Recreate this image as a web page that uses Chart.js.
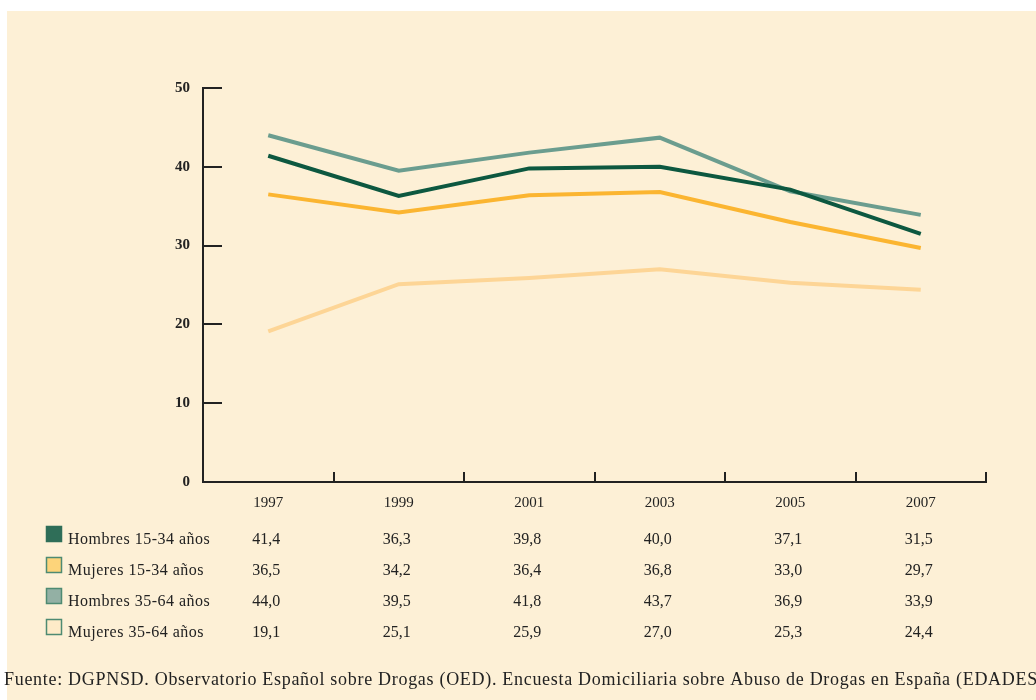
<!DOCTYPE html>
<html>
<head>
<meta charset="utf-8">
<script src="https://cdn.jsdelivr.net/npm/chart.js@4.4.1/dist/chart.umd.min.js"></script>
<style>
  html, body { margin: 0; padding: 0; background: #ffffff; }
  #wrap { width: 1036px; height: 700px; position: relative; }
</style>
</head>
<body>
<div id="wrap"><canvas id="chart" width="1036" height="700"></canvas></div>
<script>
// datos del gráfico
const years = ['1997', '1999', '2001', '2003', '2005', '2007'];
const seriesNames = ['Hombres 15-34 años', 'Mujeres 15-34 años', 'Hombres 35-64 años', 'Mujeres 35-64 años'];
const hombres1534 = [41.4, 36.3, 39.8, 40.0, 37.1, 31.5];
const mujeres1534 = [36.5, 34.2, 36.4, 36.8, 33.0, 29.7];
const hombres3564 = [44.0, 39.5, 41.8, 43.7, 36.9, 33.9];
const mujeres3564 = [19.1, 25.1, 25.9, 27.0, 25.3, 24.4];
const yTicks = [0, 10, 20, 30, 40, 50];
const fuente = 'Fuente: DGPNSD. Observatorio Español sobre Drogas (OED). Encuesta Domiciliaria sobre Abuso de Drogas en España (EDADES)';

const lineColors = ['#0d5840', '#fbb531', '#6b9d8f', '#fdd596'];
const boxFill = ['#2f6e58', '#fdd47a', '#93b0a4', '#feebc8'];
const boxBorder = ['#2f6e58', '#4e8a72', '#4e8a72', '#4e8a72'];
const allSeries = [hombres1534, mujeres1534, hombres3564, mujeres3564];

const serif = '"Liberation Serif", "DejaVu Serif", serif';

// fondo, marcas interiores, tabla y fuente
const extras = {
    id: 'extras',
    beforeDraw(chart) {
        const ctx = chart.ctx;
        ctx.save();
        ctx.fillStyle = '#fdf0d6';
        ctx.fillRect(7, 11, chart.width - 7, chart.height - 11);
        ctx.restore();
    },
    afterDraw(chart) {
        const ctx = chart.ctx;
        const xs = chart.scales.x;
        const ys = chart.scales.y;
        const area = chart.chartArea;
        ctx.save();
        ctx.strokeStyle = '#222';
        ctx.lineWidth = 2;
        // marcas del eje y hacia dentro
        yTicks.forEach(v => {
            const y = Math.round(ys.getPixelForValue(v));
            ctx.beginPath();
            ctx.moveTo(area.left, y);
            ctx.lineTo(area.left + 19, y);
            ctx.stroke();
        });
        // marcas del eje x entre categorías
        for (let i = 1; i <= years.length; i++) {
            const x = Math.round(xs.getPixelForDecimal(i / years.length));
            ctx.beginPath();
            ctx.moveTo(x, area.bottom);
            ctx.lineTo(x, area.bottom - 10);
            ctx.stroke();
        }
        // tabla con leyenda
        ctx.textBaseline = 'alphabetic';
        ctx.fillStyle = '#222';
        const rowBase = [544, 575, 606, 637];
        allSeries.forEach((vals, r) => {
            const base = rowBase[r];
            ctx.fillStyle = boxFill[r];
            ctx.fillRect(46, base - 18, 16, 16);
            ctx.strokeStyle = boxBorder[r];
            ctx.lineWidth = 1.5;
            ctx.strokeRect(46.5, base - 17.5, 15, 15);
            ctx.fillStyle = '#222';
            ctx.font = '16px ' + serif;
            ctx.letterSpacing = '0.5px';
            ctx.textAlign = 'left';
            ctx.fillText(seriesNames[r], 68, base);
            ctx.letterSpacing = '0px';
            ctx.textAlign = 'center';
            vals.forEach((v, i) => {
                const x = xs.getPixelForValue(i) - 2;
                ctx.fillText(v.toFixed(1).replace('.', ','), x, base);
            });
        });
        // fuente
        ctx.textAlign = 'left';
        ctx.font = '18px ' + serif;
        ctx.letterSpacing = '0.7px';
        ctx.fillText(fuente, 4, 685);
        ctx.restore();
    }
};

new Chart(document.getElementById('chart'), {
    type: 'line',
    data: {
        labels: years,
        datasets: allSeries.map((vals, i) => ({
            label: seriesNames[i],
            data: vals,
            borderColor: lineColors[i],
            backgroundColor: lineColors[i],
            borderWidth: 4,
            pointRadius: 0,
            tension: 0,
            fill: false
        }))
    },
    options: {
        responsive: false,
        animation: false,
        devicePixelRatio: 1,
        layout: { padding: { left: 0, right: 50, top: 88, bottom: 0 } },
        plugins: {
            legend: { display: false },
            tooltip: { enabled: false }
        },
        scales: {
            x: {
                type: 'category',
                offset: true,
                grid: { display: false, drawTicks: false },
                border: { display: true, color: '#222', width: 2 },
                ticks: {
                    color: '#222',
                    padding: 12,
                    maxRotation: 0,
                    font: { family: serif, size: 15 }
                },
                afterFit(scale) { scale.height = 218; }
            },
            y: {
                min: 0,
                max: 50,
                grid: { display: false, drawTicks: false },
                border: { display: true, color: '#222', width: 2 },
                ticks: {
                    stepSize: 10,
                    color: '#222',
                    padding: 13,
                    font: { family: serif, size: 15, weight: 'bold' }
                },
                afterFit(scale) { scale.width = 203; }
            }
        }
    },
    plugins: [extras]
});
</script>
</body>
</html>
